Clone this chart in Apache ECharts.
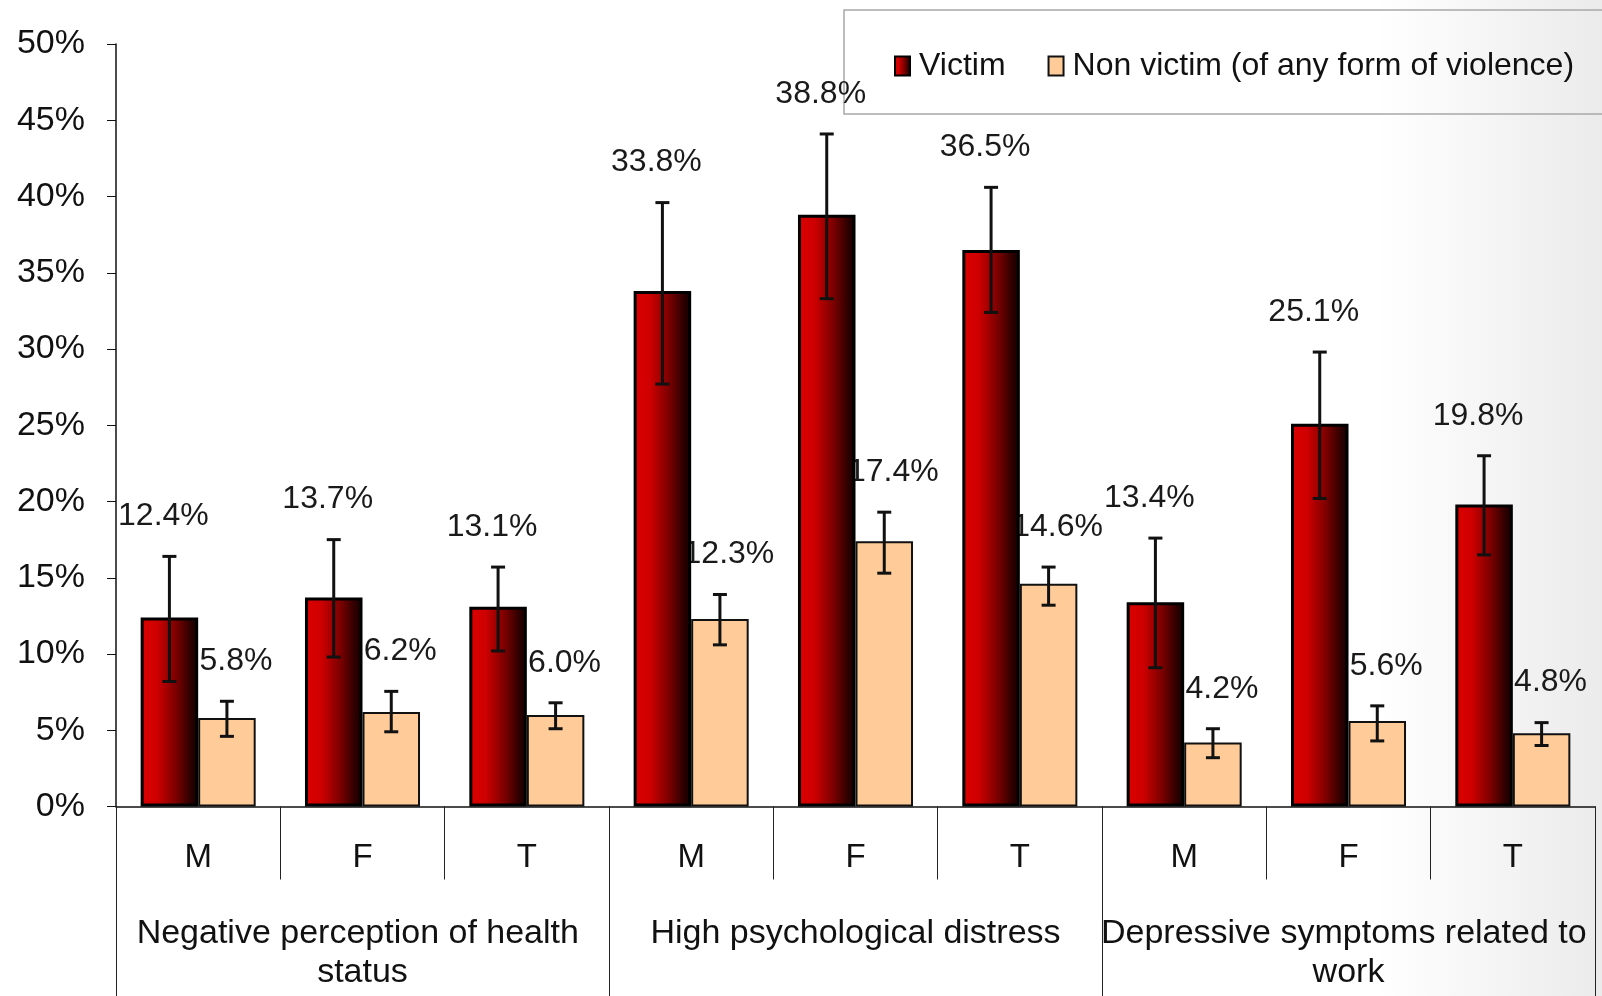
<!DOCTYPE html>
<html>
<head>
<meta charset="utf-8">
<script src="https://cdn.jsdelivr.net/npm/echarts@6/dist/echarts.min.js"></script>
<style>
html,body{margin:0;padding:0;background:#fff;}
#chart{width:1602px;height:996px;}
</style>
</head>
<body>
<div id="chart"></div>
<script>
// ---- data ----
const categories = ['M', 'F', 'T', 'M', 'F', 'T', 'M', 'F', 'T'];
const groups = ['Negative perception of health status', 'High psychological distress', 'Depressive symptoms related to work'];
const yTicks = [0, 5, 10, 15, 20, 25, 30, 35, 40, 45, 50];
const seriesNames = ['Victim', 'Non victim (of any form of violence)'];
const victim = [12.4, 13.7, 13.1, 33.8, 38.8, 36.5, 13.4, 25.1, 19.8];
const victimLow = [8.2, 9.8, 10.2, 27.7, 33.3, 32.4, 9.1, 20.2, 16.5];
const victimHigh = [16.4, 17.5, 15.7, 39.6, 44.1, 40.6, 17.6, 29.8, 23.0];
const nonVictim = [5.8, 6.2, 6.0, 12.3, 17.4, 14.6, 4.2, 5.6, 4.8];
const nonVictimLow = [4.6, 4.9, 5.1, 10.6, 15.3, 13.2, 3.2, 4.3, 4.0];
const nonVictimHigh = [6.9, 7.55, 6.8, 13.9, 19.3, 15.7, 5.1, 6.6, 5.5];

// ---- styling ----
const FONT = '"Liberation Sans", Arial, sans-serif';
const CAT_GAP = 0.30;
const victimFill = {
  type: 'linear', x: 0, y: 0, x2: 1, y2: 0,
  colorStops: [
    {offset: 0, color: '#dc0000'},
    {offset: 0.28, color: '#cf0000'},
    {offset: 0.62, color: '#7a0000'},
    {offset: 0.88, color: '#2a0000'},
    {offset: 1, color: '#140000'}
  ]
};
const nonVictimFill = '#ffcc99';

function barCenter(api, idx, side) {
  const band = api.size([1, 0])[0];
  const bw = band * (1 - CAT_GAP) / 2;
  return api.coord([idx, 0])[0] + side * bw / 2;
}

function errorSeries(low, high, side) {
  return {
    type: 'custom',
    z: 5,
    silent: true,
    clip: false,
    data: low.map((l, i) => [i, l, high[i]]),
    encode: {x: 0, y: [1, 2]},
    renderItem: function (params, api) {
      const idx = api.value(0);
      const cx = barCenter(api, idx, side);
      const yLo = api.coord([idx, api.value(1)])[1];
      const yHi = api.coord([idx, api.value(2)])[1];
      const cap = 7;
      const st = {stroke: '#111', lineWidth: 3};
      return {
        type: 'group',
        children: [
          {type: 'line', shape: {x1: cx, y1: yLo, x2: cx, y2: yHi}, style: st},
          {type: 'line', shape: {x1: cx - cap, y1: yHi, x2: cx + cap, y2: yHi}, style: st},
          {type: 'line', shape: {x1: cx - cap, y1: yLo, x2: cx + cap, y2: yLo}, style: st}
        ]
      };
    }
  };
}

function labelSeries(values, high, side, dx) {
  return {
    type: 'custom',
    z: 1,
    silent: true,
    clip: false,
    data: values.map((v, i) => [i, high[i], v]),
    encode: {x: 0, y: 1},
    renderItem: function (params, api) {
      const idx = api.value(0);
      const cx = barCenter(api, idx, side) + dx;
      const yHi = api.coord([idx, api.value(1)])[1];
      return {
        type: 'text',
        x: cx,
        y: yHi - 24,
        style: {
          text: api.value(2).toFixed(1) + '%',
          font: '32px ' + FONT,
          fill: '#1a1a1a',
          align: 'center',
          verticalAlign: 'bottom'
        }
      };
    }
  };
}

const chart = echarts.init(document.getElementById('chart'), null, {renderer: 'canvas'});
chart.setOption({
  animation: false,
  backgroundColor: {
    type: 'linear', x: 0, y: 0, x2: 1, y2: 0,
    colorStops: [
      {offset: 0, color: '#ffffff'},
      {offset: 0.86, color: '#ffffff'},
      {offset: 1, color: '#ebebeb'}
    ]
  },
  textStyle: {fontFamily: FONT},
  graphic: [{
    type: 'rect',
    silent: true,
    shape: {x: 844, y: 10, width: 800, height: 104},
    style: {fill: 'none', stroke: '#a8a8a8', lineWidth: 1.5}
  }],
  legend: {
    data: seriesNames,
    orient: 'horizontal',
    left: 894,
    top: 50,
    padding: 0,
    itemWidth: 15,
    itemHeight: 19,
    itemGap: 42,
    icon: 'rect',
    textStyle: {fontSize: 32, color: '#111', fontFamily: FONT, padding: [0, 0, 0, 4]}
  },
  grid: {left: 116, right: 7, top: 44, bottom: 189.5, containLabel: false},
  xAxis: [
    {
      type: 'category',
      data: categories,
      position: 'bottom',
      axisLine: {show: true, lineStyle: {color: '#111', width: 1.5}},
      axisTick: {show: true, interval: 0, length: 73, lineStyle: {color: '#222', width: 1}},
      axisLabel: {interval: 0, margin: 35, fontSize: 33, color: '#111', fontFamily: FONT}
    },
    {
      type: 'category',
      data: groups,
      position: 'bottom',
      axisLine: {show: false},
      axisTick: {show: true, interval: 0, length: 200, lineStyle: {color: '#222', width: 1}},
      axisLabel: {
        interval: 0, margin: 108, fontSize: 34, color: '#111', fontFamily: FONT,
        width: 500, overflow: 'break', lineHeight: 39, align: 'center'
      }
    }
  ],
  yAxis: {
    type: 'value',
    min: yTicks[0],
    max: yTicks[yTicks.length - 1],
    interval: yTicks[1] - yTicks[0],
    axisLine: {show: true, lineStyle: {color: '#111', width: 1.5}},
    axisTick: {show: true, length: 9, lineStyle: {color: '#111', width: 1}},
    splitLine: {show: false},
    axisLabel: {
      margin: 31, fontSize: 34, color: '#111', fontFamily: FONT,
      formatter: function (v) { return v + '%'; }
    }
  },
  series: [
    labelSeries(victim, victimHigh, -1, -6),
    labelSeries(nonVictim, nonVictimHigh, 1, 9),
    {
      name: seriesNames[0],
      type: 'bar',
      z: 3,
      data: victim,
      barGap: '0%',
      barCategoryGap: (CAT_GAP * 100) + '%',
      itemStyle: {color: victimFill, borderColor: '#000', borderWidth: 3}
    },
    {
      name: seriesNames[1],
      type: 'bar',
      z: 3,
      data: nonVictim,
      barGap: '0%',
      barCategoryGap: (CAT_GAP * 100) + '%',
      itemStyle: {color: nonVictimFill, borderColor: '#111', borderWidth: 2}
    },
    errorSeries(victimLow, victimHigh, -1),
    errorSeries(nonVictimLow, nonVictimHigh, 1)
  ]
});
</script>
</body>
</html>
